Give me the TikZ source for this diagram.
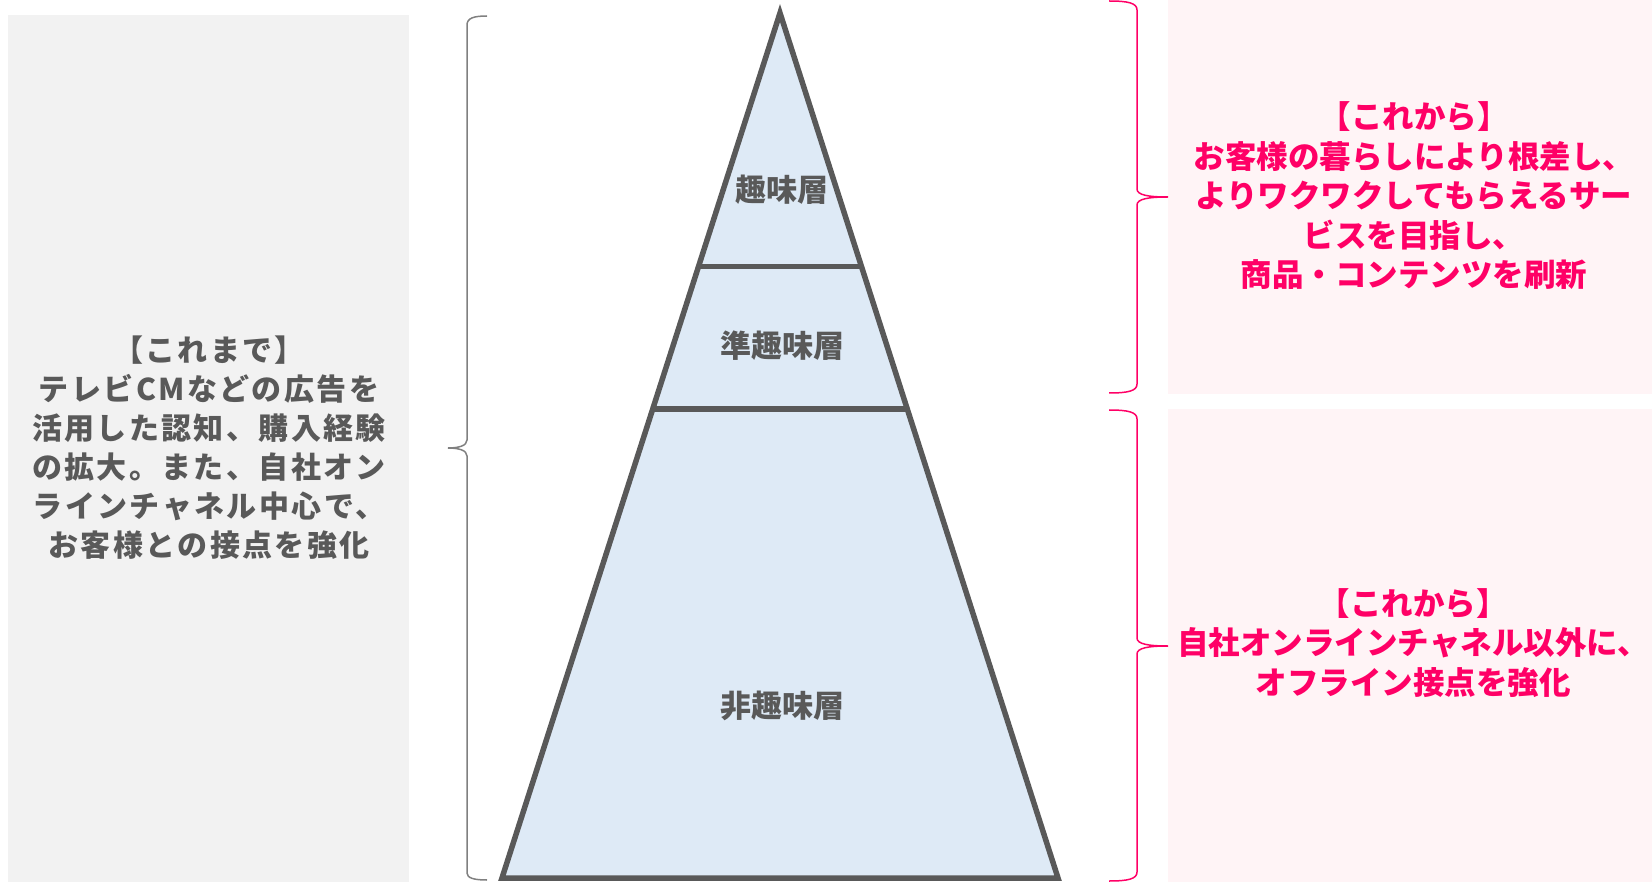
\documentclass[tikz,border=0pt]{standalone}
\usepackage{fontspec}
\usetikzlibrary{calc}
\newfontfamily\jp{Noto Sans CJK JP}
\newfontfamily\jpl{Noto Sans CJK JP}[LetterSpace=8]
\definecolor{tgray}{HTML}{595959}
\definecolor{boxgray}{HTML}{F2F2F2}
\definecolor{pinkbg}{HTML}{FFF4F6}
\definecolor{pinktx}{HTML}{FF0066}
\definecolor{trifill}{HTML}{DEEAF6}
\definecolor{bracegray}{HTML}{808080}
\tikzset{
  lefttext/.style={align=center, text=tgray, font=\jpl\bfseries\fontsize{30}{39}\selectfont},
  pinktext/.style={align=center, inner sep=1pt, text=pinktx, font=\jp\bfseries\fontsize{31.5}{39.5}\selectfont},
  layertext/.style={text=tgray, font=\jp\bfseries\fontsize{31}{36}\selectfont},
  tristroke/.style={draw=tgray, line width=5.5pt},
  graybrace/.style={draw=bracegray, line width=1.5pt},
  pinkbrace/.style={draw=pinktx, line width=1.5pt},
}
\begin{document}
\begin{tikzpicture}[x=1pt,y=-1pt]
\useasboundingbox (0,0) rectangle (1652,882);
% background boxes
\fill[boxgray] (8,15) rectangle (409,882);
\fill[pinkbg] (1168,0) rectangle (1652,394);
\fill[pinkbg] (1168,409) rectangle (1652,882);
% triangle
\coordinate (A) at (780,13);
\coordinate (BL) at (502,878);
\coordinate (BR) at (1058,878);
\fill[trifill] (A) -- (BL) -- (BR) -- cycle;
\coordinate (L1a) at ($(A)!0.2931!(BL)$);
\coordinate (L1b) at ($(A)!0.2931!(BR)$);
\coordinate (L2a) at ($(A)!0.4576!(BL)$);
\coordinate (L2b) at ($(A)!0.4576!(BR)$);
\draw[tristroke] (L1a) -- (L1b);
\draw[tristroke] (L2a) -- (L2b);
\draw[tristroke, line join=miter] (A) -- (BL) -- (BR) -- cycle;
\node[layertext] (top) at (782,190) {趣味層};
\node[layertext] (mid) at (782,346) {準趣味層};
\node[layertext] (bot) at (782,706) {非趣味層};
% left text
\node[lefttext] (past) at (209,448) {【これまで】\\テレビCMなどの広告を\\活用した認知、購入経験\\の拡大。また、自社オン\\ラインチャネル中心で、\\お客様との接点を強化};
% right texts
\node[pinktext] (fut1) at (1414,196) {【これから】\\お客様の暮らしにより根差し、\\よりワクワクしてもらえるサー\\ビスを目指し、\\商品・コンテンツを刷新};
\node[pinktext] (fut2) at (1413,643) {【これから】\\自社オンラインチャネル以外に、\\オフライン接点を強化};
% left brace
\coordinate (lbT) at (487,16);
\coordinate (lbB) at (487,880);
\coordinate (lbTip) at (448,448);
\draw[graybrace] (lbT) .. controls (474,16) and (467,18) .. (467,25) -- (467,440)
  .. controls (467,446) and (458,448) .. (lbTip)
  .. controls (458,448) and (467,450) .. (467,456) -- (467,873)
  .. controls (467,878) and (474,880) .. (lbB);
% right brace 1
\coordinate (r1T) at (1109,1);
\coordinate (r1B) at (1109,393);
\coordinate (r1Tip) at (1168,197);
\draw[pinkbrace] (r1T) .. controls (1128,1) and (1137,3) .. (1137,10) -- (1137,189)
  .. controls (1137,195) and (1148,197) .. (r1Tip)
  .. controls (1148,197) and (1137,199) .. (1137,205) -- (1137,384)
  .. controls (1137,391) and (1128,393) .. (r1B);
% right brace 2
\coordinate (r2T) at (1109,410);
\coordinate (r2B) at (1109,881);
\coordinate (r2Tip) at (1168,646);
\draw[pinkbrace] (r2T) .. controls (1128,410) and (1137,412) .. (1137,419) -- (1137,638)
  .. controls (1137,644) and (1148,646) .. (r2Tip)
  .. controls (1148,646) and (1137,648) .. (1137,654) -- (1137,872)
  .. controls (1137,879) and (1128,881) .. (r2B);
\end{tikzpicture}
\end{document}
